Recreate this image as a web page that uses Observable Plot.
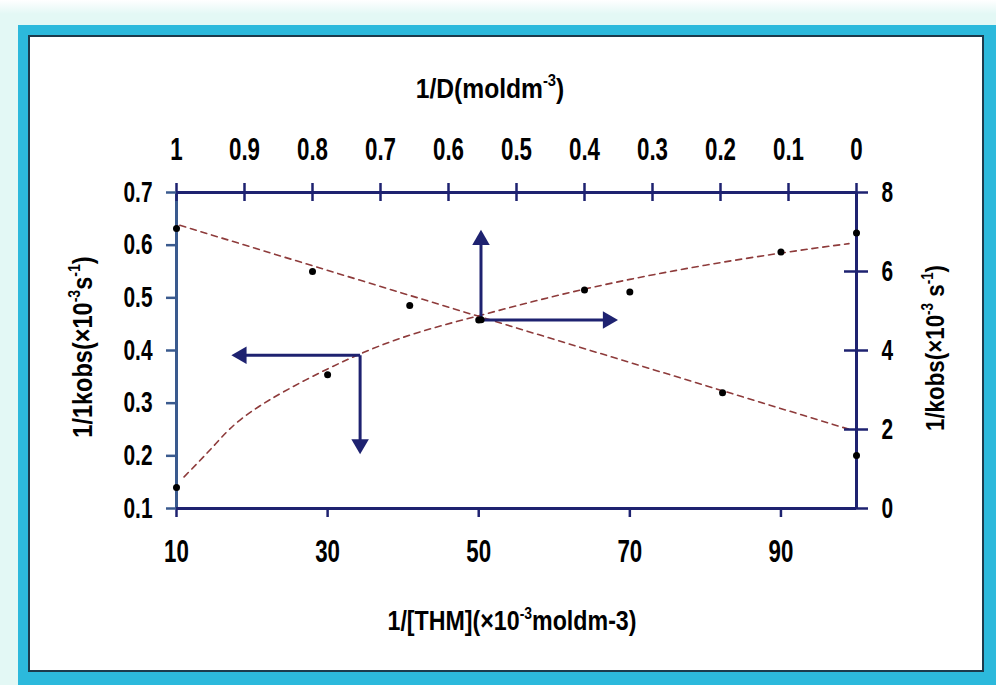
<!DOCTYPE html>
<html>
<head>
<meta charset="utf-8">
<script src="https://cdn.jsdelivr.net/npm/d3@7"></script>
<script src="https://cdn.jsdelivr.net/npm/@observablehq/plot@0.6"></script>
<style>
html,body{margin:0;padding:0;width:996px;height:685px;overflow:hidden;background:#fff;}
#bg{position:absolute;left:0;top:0;width:996px;height:685px;background:linear-gradient(#ffffff 0px,#e3f8f5 14px,#e3f8f5 100%);}
#cyan{position:absolute;left:18px;top:25px;width:978px;height:660px;background:#2cb9dc;}
#panel{position:absolute;left:28px;top:35px;width:956px;height:637px;background:#fff;border:2px solid #1d3a4c;box-sizing:border-box;}
#chart{position:absolute;left:0;top:0;}
#chart svg text{font-family:"Liberation Sans",Arial,sans-serif;font-weight:bold;}
</style>
</head>
<body>
<div id="bg"></div>
<div id="cyan"></div>
<div id="panel"></div>
<div id="chart"></div>
<script>
// ---- data ----
// Series A: 1/kobs (left axis) vs 1/[THM] (bottom axis)
const thmX = [10, 30, 50, 64, 70, 90, 100];
const kobsLeft = [0.14, 0.354, 0.458, 0.515, 0.511, 0.587, 0.623];
// Series B: 1/kobs (right axis) vs 1/D (top axis)
const dTop = [1, 0.8, 0.657, 0.552, 0.197, 0];
const kobsRight = [7.09, 6.0, 5.14, 4.78, 2.93, 1.34];
// Trend lines
const incTrendX = [11, 15, 20, 30, 40, 50, 60, 70, 80, 90, 99];
const incTrendY = [0.16, 0.22, 0.285, 0.365, 0.425, 0.466, 0.503, 0.535, 0.562, 0.585, 0.603];
const decTrendD = [0.995, 0.01];
const decTrendY = [7.17, 2.0];
// Ticks
const bottomTicks = [10, 30, 50, 70, 90];
const leftTicks = [0.1, 0.2, 0.3, 0.4, 0.5, 0.6, 0.7];
const leftTickLabels = ["0.1", "0.2", "0.3", "0.4", "0.5", "0.6", "0.7"];
const topTicks = [1, 0.9, 0.8, 0.7, 0.6, 0.5, 0.4, 0.3, 0.2, 0.1, 0];
const topTickLabels = ["1", "0.9", "0.8", "0.7", "0.6", "0.5", "0.4", "0.3", "0.2", "0.1", "0"];
const rightTicks = [0, 2, 4, 6, 8];
const rightTickLabels = ["0", "2", "4", "6", "8"];
// Annotation arrows (primary-axis units): start, head centre, direction
const arrowX1 = [34.3, 34.3, 50.3, 50.3];
const arrowY1 = [0.391, 0.391, 0.458, 0.458];
const arrowX2 = [18.6, 34.3, 50.3, 67.1];
const arrowY2 = [0.391, 0.222, 0.610, 0.458];
const arrowAngle = [-90, 180, 0, 90];

// secondary axes mapped onto primary scales
const xDomain = [10, 100], yDomain = [0.1, 0.7];
const fromD = d => xDomain[0] + (1 - d) * (xDomain[1] - xDomain[0]);
const fromR = r => yDomain[0] + r * (yDomain[1] - yDomain[0]) / 8;

const incPts = thmX.map((x, i) => ({x, y: kobsLeft[i]}));
const decPts = dTop.map((d, i) => ({x: fromD(d), y: fromR(kobsRight[i])}));
const incTrend = incTrendX.map((x, i) => ({x, y: incTrendY[i]}));
const decTrend = decTrendD.map((d, i) => ({x: fromD(d), y: fromR(decTrendY[i])}));
const arrows = arrowX1.map((x1, i) => ({x1, y1: arrowY1[i], x2: arrowX2[i], y2: arrowY2[i], a: arrowAngle[i]}));
const topX = topTicks.map(fromD);
const rightY = rightTicks.map(fromR);
const lookup = (vals, labels) => v => labels[vals.findIndex(t => Math.abs(t - v) < 1e-6)];

const navy = "#1e2270", steel = "#3a5a8e", trend = "#8e3b3b";

const chart = Plot.plot({
  width: 996, height: 685,
  marginLeft: 176, marginRight: 140, marginTop: 192, marginBottom: 177,
  style: {background: "transparent", color: "black", overflow: "visible"},
  x: {domain: xDomain},
  y: {domain: yDomain},
  marks: [
    Plot.line(incTrend, {x: "x", y: "y", stroke: trend, strokeWidth: 1.6, strokeDasharray: "6,5", curve: "natural"}),
    Plot.line(decTrend, {x: "x", y: "y", stroke: trend, strokeWidth: 1.6, strokeDasharray: "6,5"}),
    // axis lines
    Plot.ruleX([xDomain[0]], {stroke: steel, strokeWidth: 3}),
    Plot.ruleX([xDomain[1]], {stroke: navy, strokeWidth: 3}),
    Plot.ruleY([yDomain[0]], {stroke: navy, strokeWidth: 3}),
    Plot.ruleY([yDomain[1]], {stroke: navy, strokeWidth: 3}),
    // cross ticks on top and right axes
    Plot.ruleX(topX, {y1: yDomain[1], y2: yDomain[1], insetTop: -9, insetBottom: -9, stroke: navy, strokeWidth: 2.5}),
    Plot.ruleY(rightY, {x1: xDomain[1], x2: xDomain[1], insetLeft: -12, insetRight: -12, stroke: navy, strokeWidth: 2.5}),
    // axes
    Plot.axisX(bottomTicks, {anchor: "bottom", tickSize: 9, tickPadding: 22, fontSize: 31, stroke: navy, strokeWidth: 2.5, label: null}),
    Plot.axisY(leftTicks, {anchor: "left", tickSize: 10, tickPadding: 14, fontSize: 29, stroke: steel, strokeWidth: 2.5, label: null,
      tickFormat: lookup(leftTicks, leftTickLabels)}),
    Plot.axisX(topX, {anchor: "top", tickSize: 0, tickPadding: 33, fontSize: 31, label: null,
      tickFormat: lookup(topX, topTickLabels)}),
    Plot.axisY(rightY, {anchor: "right", tickSize: 0, tickPadding: 25, fontSize: 29, label: null,
      tickFormat: lookup(rightY, rightTickLabels)}),
    // arrows
    Plot.link(arrows, {x1: "x1", y1: "y1", x2: "x2", y2: "y2", stroke: navy, strokeWidth: 3}),
    Plot.dot(arrows, {x: "x2", y: "y2", symbol: "triangle", r: 6.5, fill: navy, stroke: "none", rotate: "a"}),
    // data points
    Plot.dot(incPts, {x: "x", y: "y", r: 3.5, fill: "black", stroke: "none"}),
    Plot.dot(decPts, {x: "x", y: "y", r: 3.5, fill: "black", stroke: "none"})
  ]
});
document.getElementById("chart").appendChild(chart);

const svg = d3.select(chart);
// condense the axis tick labels (narrow display face in the reference)
svg.selectAll("text").each(function () {
  const p = this.parentNode;
  const m = p.getCTM().inverse().multiply(this.getCTM());
  const x = this.x.baseVal.numberOfItems ? this.x.baseVal.getItem(0).value : 0;
  const y = this.y.baseVal.numberOfItems ? this.y.baseVal.getItem(0).value : 0;
  this.removeAttribute("x"); this.removeAttribute("y");
  this.setAttribute("transform",
    `matrix(${m.a},${m.b},${m.c},${m.d},${m.e},${m.f}) translate(${x},${y}) scale(0.72,1)`);
});

// axis titles with superscripts
function title(parts, x, y, rotate, size, sx) {
  const t = svg.append("text")
    .attr("transform", `translate(${x},${y}) rotate(${rotate}) scale(${sx},1)`)
    .attr("text-anchor", "middle")
    .attr("font-size", size)
    .attr("fill", "black");
  let up = false;
  parts.forEach(([s, sup]) => {
    const ts = t.append("tspan").text(s);
    if (sup && !up) { ts.attr("dy", -size * 0.42).attr("font-size", size * 0.6); up = true; }
    else if (sup) { ts.attr("font-size", size * 0.6); }
    else if (up) { ts.attr("dy", size * 0.42); up = false; }
  });
}
title([["1/D(moldm"], ["-3", true], [")"]], 490, 98, 0, 28, 0.88);
title([["1/[THM](×10"], ["-3", true], ["moldm-3)"]], 512, 630, 0, 27, 0.86);
title([["1/1kobs(×10"], ["-3", true], ["s"], ["-1", true], [")"]], 92, 347, -90, 28, 0.84);
title([["1/kobs(×10"], ["-3", true], [" s"], ["-1", true], [")"]], 944, 348, -90, 26, 0.86);
</script>
</body>
</html>
